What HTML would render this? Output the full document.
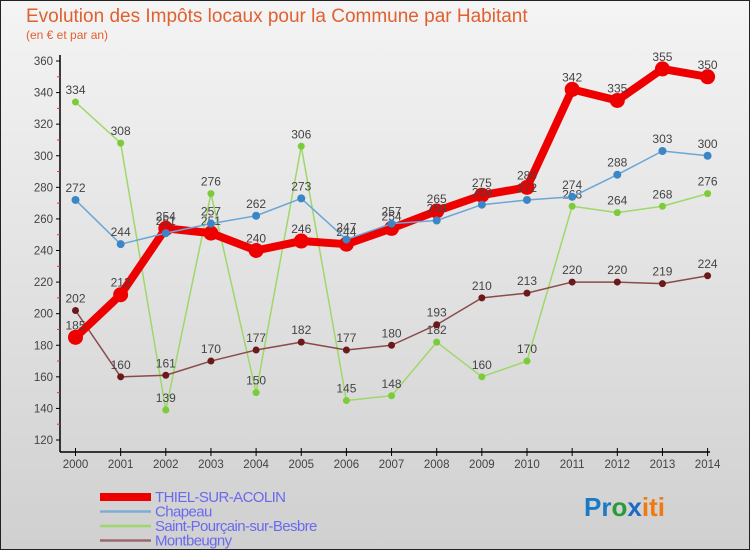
<!DOCTYPE html>
<html><head><meta charset="utf-8"><style>
body{margin:0;width:750px;height:550px;overflow:hidden;font-family:"Liberation Sans",sans-serif}
</style></head><body>
<svg width="750" height="550" xmlns="http://www.w3.org/2000/svg" id="svg">
<defs><linearGradient id="bg" x1="0" y1="0" x2="0" y2="1"><stop offset="0" stop-color="#f4f4f4"/><stop offset="1" stop-color="#d0d0d0"/></linearGradient></defs>
<rect x="0.5" y="0.5" width="749" height="549" fill="url(#bg)" stroke="#222"/>
<text x="26" y="22" font-size="19" fill="#e06030">Evolution des Impôts locaux pour la Commune par Habitant</text>
<text x="26" y="39" font-size="12" fill="#e06030">(en € et par an)</text>
<g id="axes"></g><g id="series"></g>
</svg>
<script>
const years=[2000,2001,2002,2003,2004,2005,2006,2007,2008,2009,2010,2011,2012,2013,2014];
const thiel=[185,212,254,251,240,246,244,254,265,275,280,342,335,355,350];
const chapeau=[272,244,251,257,262,273,247,257,259,269,272,274,288,303,300];
const saintP=[334,308,139,276,150,306,145,148,182,160,170,268,264,268,276];
const montb=[202,160,161,170,177,182,177,180,193,210,213,220,220,219,224];
const yTicks=[120,140,160,180,200,220,240,260,280,300,320,340,360];
const NS="http://www.w3.org/2000/svg";
const svg=document.getElementById('svg');
const X=i=>75.5+i*45.15, Y=v=>440-(v-120)*(379/240);
function el(t,a,p){const e=document.createElementNS(NS,t);for(const k in a)e.setAttribute(k,a[k]);(p||svg).appendChild(e);return e;}
const ax=document.getElementById('axes');
let e=el('line',{x1:60,y1:55,x2:60,y2:452,stroke:'#000','stroke-width':1.5},ax);


e=el('line',{x1:60,y1:452,x2:710,y2:452,stroke:'#000','stroke-width':1.5},ax);


yTicks.forEach(v=>{
  el('line',{x1:56,y1:Y(v),x2:60,y2:Y(v),stroke:'#000'},ax);
  if(v<360) el('line',{x1:57,y1:Y(v+10),x2:60,y2:Y(v+10),stroke:'#e33'},ax);
  const t=el('text',{x:53,y:Y(v)+4,'font-size':11.5,'text-anchor':'end',fill:'#444'},ax);t.textContent=v;
  
  
});
years.forEach((y,i)=>{
  el('line',{x1:X(i),y1:448,x2:X(i),y2:456,stroke:'#000'},ax);
  const t=el('text',{x:X(i),y:468,'font-size':11.5,'text-anchor':'middle',fill:'#444'},ax);t.textContent=y;
  
  
});
const sg=document.getElementById('series');
function series(d,name,color,lw,r,dot){
  const g=el('g',{},sg);
  
  
  el('polyline',{points:d.map((v,i)=>X(i)+','+Y(v)).join(' '),fill:'none',stroke:color,'stroke-width':lw,'stroke-linejoin':'round'},g);
  d.forEach((v,i)=>{
    const c=el('circle',{cx:X(i),cy:Y(v),r:r,fill:dot},g);
    
    
    const t=el('text',{x:X(i),y:Y(v)-8,'font-size':12,'text-anchor':'middle',fill:'#444'},g);t.textContent=v;
    
    
  });
}
series(saintP,'saint-pourcain-series','#9ed86a',1.5,3.5,'#7ccc3a');
series(montb,'montbeugny-series','#8a4a4a',1.5,3.5,'#6a1a1a');
series(thiel,'thiel-series','#ee0000',8,7.5,'#ee0000');
series(chapeau,'chapeau-series','#6aa6d6',1.5,4,'#3a86c6');
const lg=el('g',{});


const items=[['THIEL-SUR-ACOLIN','#e00',8],['Chapeau','#7aaed6',2.5],['Saint-Pourçain-sur-Besbre','#9ed86a',2.5],['Montbeugny','#9a6a6a',2.5]];
items.forEach((it,k)=>{
  const y=497+k*14.5;
  el('line',{x1:100,y1:y,x2:151,y2:y,stroke:it[1],'stroke-width':it[2]},lg);
  const t=el('text',{x:155,y:y+5,'font-size':15,fill:'#6a6aee','letter-spacing':'-0.6'},lg);t.textContent=it[0];
  
  
});
const logo=el('text',{x:584,y:516,'font-size':26,'font-weight':'bold'});


[['Pr','#1a7ac6'],['o','#2a9a3a'],['x','#1a6ac6'],['iti','#f07a10']].forEach(p=>{const s=el('tspan',{fill:p[1]},logo);s.textContent=p[0];});
</script>
</body></html>
